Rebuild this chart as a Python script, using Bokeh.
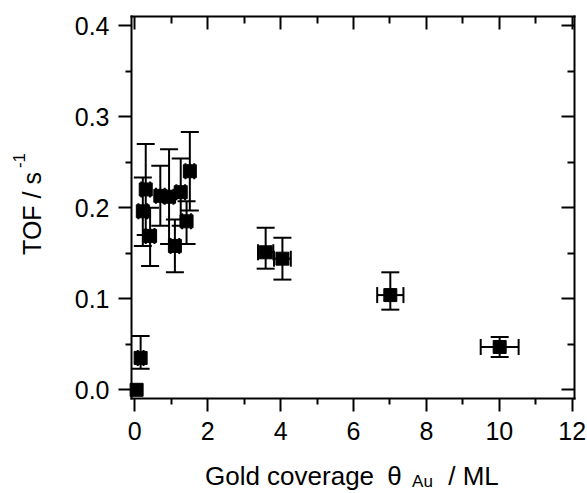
import math
from bokeh.plotting import figure
from bokeh.models import (ColumnDataSource, Whisker, TeeHead, LinearAxis, FixedTicker,
                          PrintfTickFormatter, Label, Range1d)
from bokeh.embed import file_html
from bokeh.resources import INLINE

# ---- data ----
coverage     = [0.05, 0.16, 0.22, 0.30, 0.42, 0.70, 0.94, 1.10, 1.26, 1.42, 1.51, 3.59, 4.05, 7.01, 10.01]
coverage_err = [0.00, 0.08, 0.12, 0.12, 0.12, 0.12, 0.12, 0.12, 0.12, 0.12, 0.12, 0.21, 0.23, 0.36, 0.52]
tof          = [0.000, 0.035, 0.196, 0.220, 0.169, 0.213, 0.212, 0.158, 0.217, 0.185, 0.240, 0.151, 0.144, 0.104, 0.047]
tof_low      = [0.000, 0.023, 0.158, 0.170, 0.136, 0.180, 0.160, 0.129, 0.180, 0.160, 0.197, 0.133, 0.121, 0.088, 0.036]
tof_high     = [0.000, 0.059, 0.233, 0.270, 0.200, 0.246, 0.264, 0.187, 0.254, 0.207, 0.283, 0.178, 0.167, 0.129, 0.058]

x_ticks = [0, 2, 4, 6, 8, 10, 12]
x_minor = [1, 3, 5, 7, 9, 11]
y_ticks = [0.0, 0.1, 0.2, 0.3, 0.4]
y_minor = [0.05, 0.15, 0.25, 0.35]

FONT = "Liberation Sans"
W, H = 587, 493

# visible axis box (data units) and the full-canvas view range
BOX_X = (-0.0905, 12.063)
BOX_Y = (-0.00955, 0.4099)
VIEW_X = (-3.6845, 12.4198)
VIEW_Y = (-0.11387, 0.42747)

p = figure(width=W, height=H, output_backend="svg", toolbar_location=None,
           x_range=Range1d(*VIEW_X), y_range=Range1d(*VIEW_Y),
           x_axis_type=None, y_axis_type=None, min_border=0)
p.min_border_left = p.min_border_right = p.min_border_top = p.min_border_bottom = 0
p.outline_line_color = None
p.background_fill_color = "white"
p.border_fill_color = "white"


def make_axis(ticks, minor, loc, bounds, inside, fmt=None, standoff=8):
    ax = LinearAxis(ticker=FixedTicker(ticks=ticks, minor_ticks=minor),
                    fixed_location=loc, bounds=bounds)
    if fmt is not None:
        ax.formatter = PrintfTickFormatter(format=fmt)
    ax.axis_line_width = 2
    ax.axis_line_color = "black"
    ax.axis_line_cap = "square"
    ax.major_tick_line_width = 2
    ax.minor_tick_line_width = 2
    ax.major_tick_line_color = "black"
    ax.minor_tick_line_color = "black"
    if inside:
        ax.major_tick_in = 13
        ax.major_tick_out = 0
        ax.minor_tick_in = 7
        ax.minor_tick_out = 0
        ax.major_label_text_font_size = "0px"
        ax.major_label_text_alpha = 0
        ax.major_label_standoff = 0
    else:
        ax.major_tick_in = 0
        ax.major_tick_out = 13
        ax.minor_tick_in = 0
        ax.minor_tick_out = 6
        ax.major_label_text_font = FONT
        ax.major_label_text_font_size = "25px"
        ax.major_label_text_color = "black"
        ax.major_label_standoff = standoff
    return ax


p.add_layout(make_axis(x_ticks, x_minor, BOX_Y[0], BOX_X, False, "%d", 11), "below")
p.add_layout(make_axis(y_ticks, y_minor, BOX_X[0], BOX_Y, False, "%.1f", 9), "left")
p.add_layout(make_axis(x_ticks, x_minor, BOX_Y[1], BOX_X, True), "above")
p.add_layout(make_axis(y_ticks, y_minor, BOX_X[1], BOX_Y, True), "right")

# ---- error bars ----
yi = [i for i in range(len(tof)) if tof_high[i] > tof_low[i]]
src_y = ColumnDataSource(dict(x=[coverage[i] for i in yi],
                              lo=[tof_low[i] for i in yi],
                              hi=[tof_high[i] for i in yi]))
xi = [i for i in range(len(tof)) if coverage_err[i] > 0]
src_x = ColumnDataSource(dict(y=[tof[i] for i in xi],
                              lo=[coverage[i] - coverage_err[i] for i in xi],
                              hi=[coverage[i] + coverage_err[i] for i in xi]))

wy = Whisker(source=src_y, base="x", lower="lo", upper="hi", dimension="height",
             line_color="black", line_width=2,
             lower_head=TeeHead(size=18, line_width=2, line_color="black"),
             upper_head=TeeHead(size=18, line_width=2, line_color="black"))
wx = Whisker(source=src_x, base="y", lower="lo", upper="hi", dimension="width",
             line_color="black", line_width=2,
             lower_head=TeeHead(size=16, line_width=2, line_color="black"),
             upper_head=TeeHead(size=16, line_width=2, line_color="black"))
p.add_layout(wy)
p.add_layout(wx)

src = ColumnDataSource(dict(x=coverage, y=tof))
p.scatter(x="x", y="y", source=src, marker="square", size=13,
          fill_color="black", line_color="black")

# ---- axis titles (offsets in px from the box's bottom-left corner) ----
def lab(text, dx, dy, size, angle=0.0, align="center"):
    p.add_layout(Label(x=BOX_X[0], y=BOX_Y[0], x_units="data", y_units="data",
                       x_offset=dx, y_offset=dy, text=text, angle=angle,
                       text_font=FONT, text_font_size=size, text_color="black",
                       text_align=align, text_baseline="alphabetic"))


lab("TOF / s", -100, 185, "25px", math.pi / 2)
lab("-1", -113, 238, "17px", math.pi / 2)

lab("Gold coverage", 158, -78, "26px")
lab("θ", 263, -78, "26px")
lab("Au", 291, -83, "17px")
lab("/ ML", 342, -78, "26px")

open("out.html", "w").write(file_html(p, INLINE))
